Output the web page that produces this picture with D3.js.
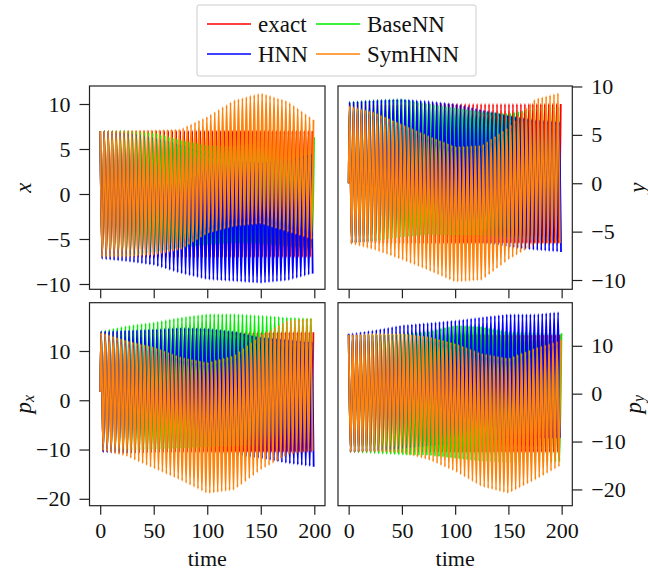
<!DOCTYPE html>
<html>
<head>
<meta charset="utf-8">
<script src="https://cdn.jsdelivr.net/npm/d3@7"></script>
<style>
  body { margin: 0; background: #fff; }
  svg text { font-family: "Liberation Serif", "DejaVu Serif", serif; fill: #111; }
</style>
</head>
<body>
<svg id="chart" width="648" height="571"></svg>
<script>
// series, in drawing order
var seriesNames = ["exact", "BaseNN", "HNN", "SymHNN"];
var seriesColors = ["#ff0000", "#00ee00", "#0000ff", "#ff820a"];
// oscillation period of each model (time units)
var periods = [3.74, 3.77, 3.71, 3.69];

var timeTicks = [0, 50, 100, 150, 200];
var sampleTimes = [0, 25, 50, 75, 100, 125, 150, 175, 200];

// upper / lower turning-point envelopes, one row per series
var xUpper = [
  [7, 7, 7, 7, 7, 7, 7, 7, 7],
  [7, 7, 6.8, 6.0, 5.4, 5.3, 5.8, 6.2, 6.3],
  [7, 6.8, 6.3, 5.5, 4.5, 3.8, 3.5, 3.8, 4.6],
  [7, 7, 7.1, 7.2, 8.6, 10.4, 11.2, 10.3, 8.2]
];
var xLower = [
  [-7, -7, -7, -7, -7, -7, -7, -7, -7],
  [-7, -6.9, -6.5, -6.0, -5.6, -5.4, -5.5, -5.8, -6.0],
  [-7.2, -7.5, -7.9, -8.8, -9.5, -9.7, -9.9, -9.6, -8.8],
  [-7, -7, -6.8, -6.2, -4.4, -3.6, -3.3, -4.2, -5.1]
];
var yUpper = [
  [8.2, 8.2, 8.2, 8.2, 8.2, 8.2, 8.2, 8.2, 8.2],
  [8.4, 8.6, 8.7, 8.2, 7.8, 7.4, 7.2, 7.7, 7.9],
  [8.4, 8.6, 8.7, 8.5, 8.2, 7.6, 7.0, 6.5, 6.3],
  [8.0, 7.3, 6.1, 4.9, 3.8, 3.9, 5.8, 8.7, 9.4]
];
var yLower = [
  [-6.2, -6.2, -6.2, -6.2, -6.2, -6.2, -6.2, -6.2, -6.2],
  [-6.2, -6.0, -5.6, -5.3, -5.4, -5.4, -5.6, -5.8, -6.0],
  [-6.2, -6.0, -5.8, -5.6, -5.6, -6.2, -6.6, -6.9, -7.1],
  [-6.2, -6.9, -7.9, -9.0, -10.2, -10.0, -7.9, -6.3, -6.2]
];
var pxUpper = [
  [13.8, 13.8, 13.8, 13.8, 13.8, 13.8, 13.8, 13.8, 13.8],
  [14, 15.1, 15.8, 16.8, 17.5, 17.5, 17.2, 16.8, 16.6],
  [14, 14.2, 14.4, 14.7, 14.6, 14.0, 12.8, 12.3, 11.8],
  [13.8, 12.1, 10.8, 8.8, 7.7, 9.1, 13.1, 16.2, 16.6]
];
var pxLower = [
  [-10.5, -10.5, -10.5, -10.5, -10.5, -10.5, -10.5, -10.5, -10.5],
  [-10.3, -10.2, -10, -9.8, -9.5, -9.3, -9.2, -9.2, -9.3],
  [-10.5, -10.8, -10.6, -10.5, -10.6, -11, -11.8, -12.8, -13.5],
  [-10.1, -11.4, -13.8, -16.2, -18.9, -18.2, -14.1, -11.1, -10.2]
];
var pyUpper = [
  [12.3, 12.3, 12.3, 12.3, 12.3, 12.3, 12.3, 12.3, 12.3],
  [12.3, 12.4, 12.5, 13.0, 14.3, 14.0, 12.9, 12.9, 12.6],
  [12.5, 13.3, 14.3, 14.8, 15.3, 16.0, 16.6, 16.6, 17.1],
  [12.3, 12.6, 12.6, 11.9, 10.5, 8.4, 7.4, 9.5, 11.2]
];
var pyLower = [
  [-12.2, -12.2, -12.2, -12.2, -12.2, -12.2, -12.2, -12.2, -12.2],
  [-12.2, -12.5, -12.8, -12.9, -13.5, -14.2, -14.5, -14.3, -14.2],
  [-12.2, -12, -11.5, -11, -10.5, -10, -9.5, -9.3, -9.2],
  [-12.2, -12.1, -12.4, -13.8, -16.2, -19.4, -20.8, -18, -14.9]
];

var panelLabels = ["x", "y", "p", "p"];
var panelSubs = ["", "", "x", "y"];
var panelYTicks = [[-10, -5, 0, 5, 10], [-10, -5, 0, 5, 10], [-20, -10, 0, 10], [-20, -10, 0, 10]];
var panelYDomains = [[-10.59, 12.0], [-10.96, 10.05], [-21.4, 19.8], [-23.4, 19.0]];
// value at t = 0 and offset of first upper turning point (fraction of a period)
var startValues = [7, 0, 1.7, 12.3];
var firstPeak = [0, 0.25, 0.25, 0];

var uppers = [xUpper, yUpper, pxUpper, pyUpper];
var lowers = [xLower, yLower, pxLower, pyLower];

let svg = d3.select("#chart");

// panel boxes
let boxes = [
  {x0: 89.5, x1: 325, y0: 86, y1: 289.3, side: "left", labels: false},
  {x0: 338, x1: 572.3, y0: 86, y1: 289.3, side: "right", labels: false},
  {x0: 89.5, x1: 325, y0: 302.7, y1: 505.7, side: "left", labels: true},
  {x0: 338, x1: 572.3, y0: 302.7, y1: 505.7, side: "right", labels: true}
];

function turningPoints(p, s){
  var T = periods[s];
  var hi = d3.scaleLinear().domain(sampleTimes).range(uppers[p][s]);
  var lo = d3.scaleLinear().domain(sampleTimes).range(lowers[p][s]);
  var pts = [];
  if(firstPeak[p] > 0) pts.push([0, startValues[p]]);
  for(var k = 0; ; k++){
    var t = firstPeak[p]*T + k*T/2;
    if(t > 200) break;
    pts.push([t, k % 2 == 0 ? hi(t) : lo(t)]);
  }
  return pts;
}

boxes.forEach(function(b, p){
  let g = svg.append("g");
  let xScale = d3.scaleLinear().domain([-10, 210]).range([b.x0, b.x1]);
  let yScale = d3.scaleLinear().domain(panelYDomains[p]).range([b.y1, b.y0]);

  g.append("clipPath").attr("id", "clip" + p)
    .append("rect").attr("x", b.x0).attr("y", b.y0)
    .attr("width", b.x1 - b.x0).attr("height", b.y1 - b.y0);

  let line = d3.line()
    .x(function(d){ return xScale(d[0]); })
    .y(function(d){ return yScale(d[1]); })
    .curve(d3.curveMonotoneX);

  for(var s = 0; s < seriesNames.length; s++){
    g.append("path")
      .datum(turningPoints(p, s))
      .attr("d", line)
      .attr("fill", "none")
      .attr("stroke", seriesColors[s])
      .attr("stroke-width", 1.8)
      .attr("stroke-linejoin", "round")
      .attr("clip-path", "url(#clip" + p + ")");
  }

  // frame
  g.append("rect")
    .attr("x", b.x0).attr("y", b.y0)
    .attr("width", b.x1 - b.x0).attr("height", b.y1 - b.y0)
    .attr("fill", "none").attr("stroke", "#222").attr("stroke-width", 1.2);

  // x axis
  let xAxis = d3.axisBottom(xScale).tickValues(timeTicks).tickSize(9).tickPadding(8)
    .tickFormat(b.labels ? d3.format("d") : "");
  let gx = g.append("g").attr("transform", "translate(0," + b.y1 + ")").call(xAxis);
  gx.select(".domain").remove();
  gx.selectAll("line").attr("stroke", "#222").attr("stroke-width", 1.2);
  gx.selectAll("text").style("font-size", "22px").attr("fill", "#111")
    .style("font-family", "'Liberation Serif', serif");

  if(b.labels){
    g.append("text")
      .attr("x", (xScale(0) + xScale(200))/2)
      .attr("y", 566)
      .attr("text-anchor", "middle")
      .style("font-size", "22px")
      .text("time");
  }

  // y axis
  let yAxis = (b.side == "left" ? d3.axisLeft(yScale) : d3.axisRight(yScale))
    .tickValues(panelYTicks[p]).tickSize(10).tickPadding(9);
  let gy = g.append("g")
    .attr("transform", "translate(" + (b.side == "left" ? b.x0 : b.x1) + ",0)")
    .call(yAxis);
  gy.select(".domain").remove();
  gy.selectAll("line").attr("stroke", "#222").attr("stroke-width", 1.2);
  gy.selectAll("text").style("font-size", "22px").attr("fill", "#111")
    .style("font-family", "'Liberation Serif', serif");

  // y label
  let lx = b.side == "left" ? 23 : (panelSubs[p] ? 633 : 637);
  let ly = (b.y0 + b.y1)/2;
  let lab = g.append("text")
    .attr("transform", "translate(" + lx + "," + ly + ") rotate(-90)")
    .attr("text-anchor", "middle")
    .attr("dominant-baseline", "central")
    .style("font-size", "23px")
    .style("font-style", "italic");
  lab.append("tspan").text(panelLabels[p]);
  if(panelSubs[p]){
    lab.append("tspan").attr("dy", 5).style("font-size", "16px").text(panelSubs[p]);
  }
});

// legend
let legend = svg.append("g");
legend.append("rect")
  .attr("x", 197).attr("y", 5).attr("width", 279).attr("height", 71)
  .attr("rx", 2)
  .attr("fill", "#fff").attr("stroke", "#ccc").attr("stroke-width", 1);

var legendCols = [207, 316];
var legendRows = [24, 54];
var legendSlots = [[0, 0], [1, 0], [0, 1], [1, 1]]; // [col,row] for exact, BaseNN, HNN, SymHNN
seriesNames.forEach(function(name, i){
  var cx = legendCols[legendSlots[i][0]];
  var cy = legendRows[legendSlots[i][1]];
  legend.append("line")
    .attr("x1", cx).attr("x2", cx + 44)
    .attr("y1", cy).attr("y2", cy)
    .attr("stroke", seriesColors[i]).attr("stroke-width", 1.5);
  legend.append("text")
    .attr("x", cx + 51).attr("y", cy + 8)
    .style("font-size", "23px")
    .text(name);
});
</script>
</body>
</html>
